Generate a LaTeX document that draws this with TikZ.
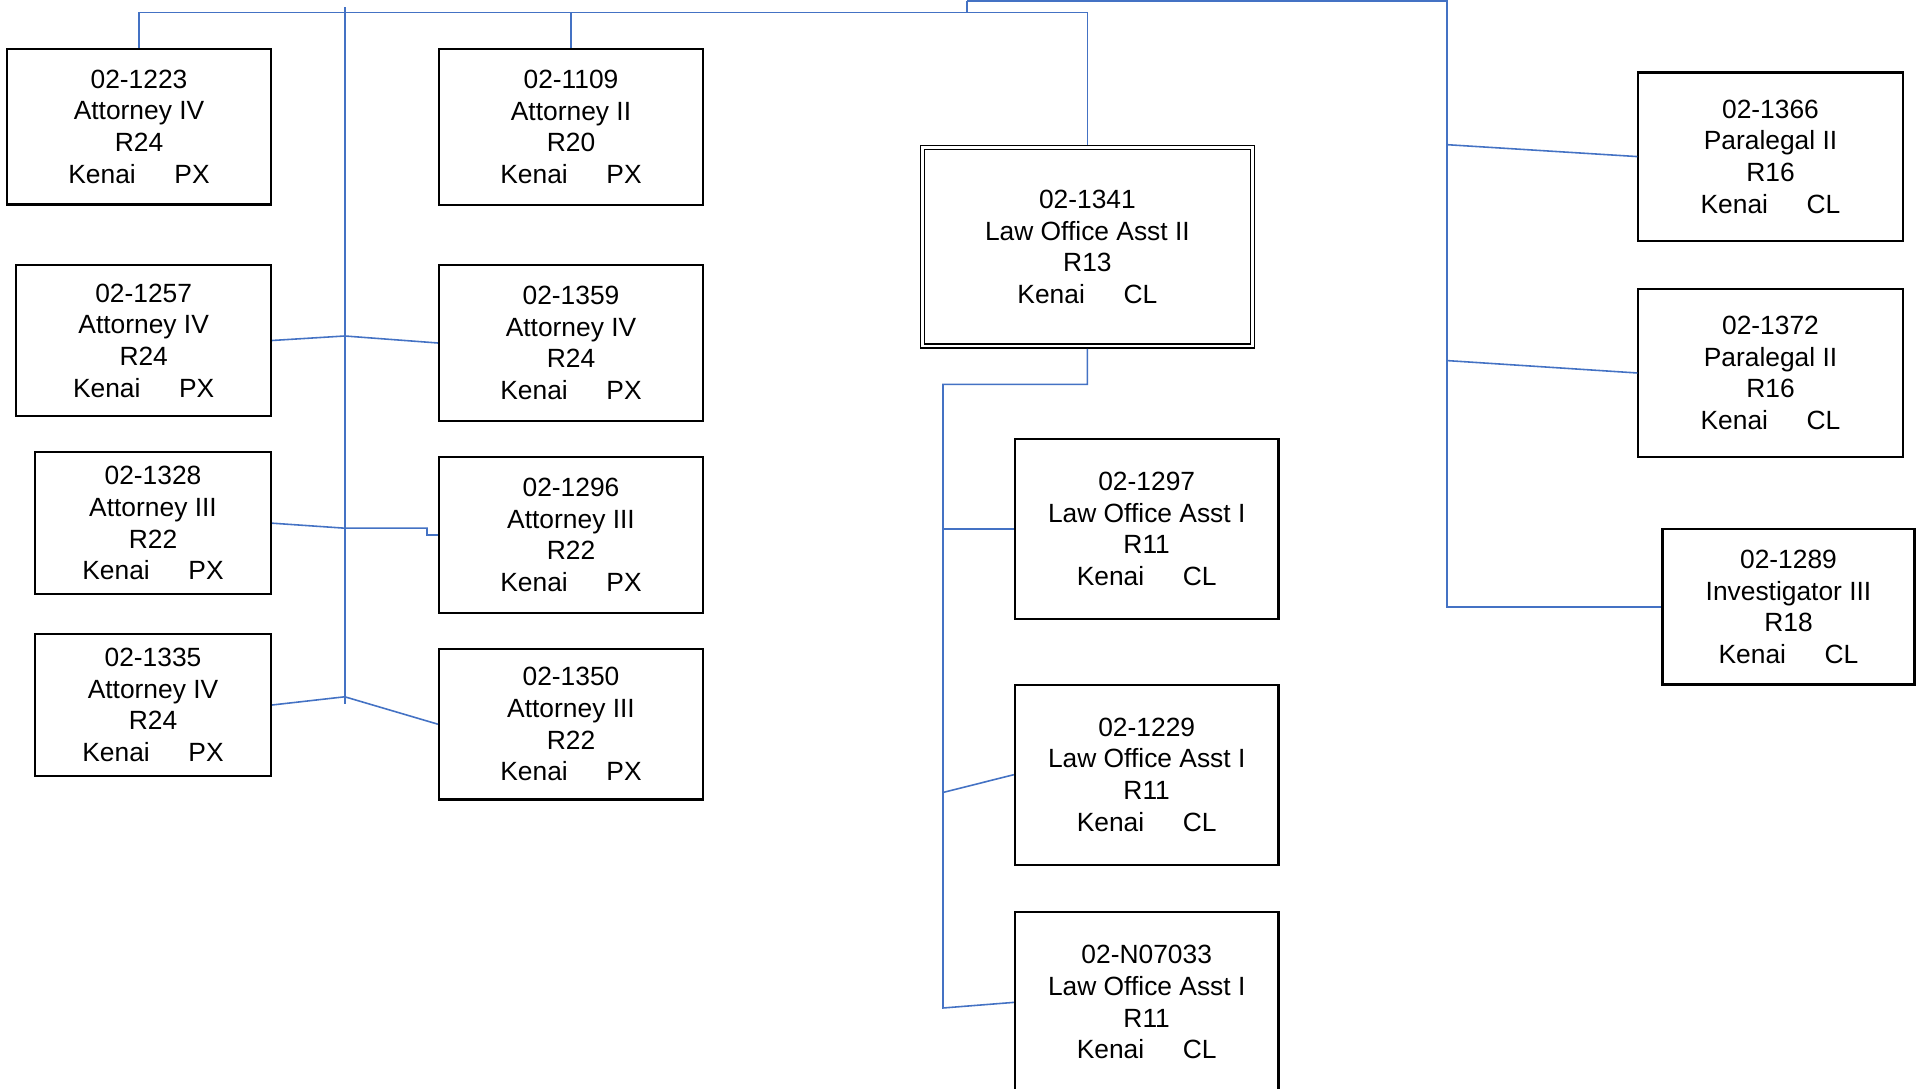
\documentclass[tikz,border=0pt]{standalone}
\usepackage{fontspec}
\setmainfont{Liberation Sans}
\usepackage{tikz}
\usetikzlibrary{positioning, calc}
\definecolor{orgblue}{RGB}{68,114,196}
\newcommand{\kgap}{\hspace{11pt}}

\begin{document}
\begin{tikzpicture}[x=0.01cm, y=-0.01cm]
			\tikzstyle{posbox}=[draw=black, line width=0.6pt, fill=none, text=black, align=center, inner sep=0pt, font=\fontsize{7.5}{9}\selectfont]
			\tikzstyle{col}=[posbox, minimum width=2.64cm, minimum height=1.56cm]
			\tikzstyle{attl}=[posbox, minimum width=2.36cm, minimum height=1.42cm]
			\tikzstyle{para}=[posbox, minimum width=2.64cm, minimum height=1.68cm]
			\tikzstyle{lawa}=[posbox, minimum width=2.635cm, minimum height=1.80cm]
			\tikzstyle{link}=[orgblue, line width=0.45pt]
			
			\clip (0,0) rectangle (1923,1089);
			\fill [white] (0,0) rectangle (1923,1089);
			
			%% left columns
			\node (p1223) at (139,126.7) [col, minimum height=1.555cm] {02-1223\\Attorney IV\\R24\\Kenai\kgap PX};
			\node (p1109) at (571,127) [col] {02-1109\\Attorney II\\R20\\Kenai\kgap PX};
			\node (p1257) at (143.7,340.5) [posbox, minimum width=2.545cm, minimum height=1.51cm] {02-1257\\Attorney IV\\R24\\Kenai\kgap PX};
			\node (p1359) at (571,343) [col] {02-1359\\Attorney IV\\R24\\Kenai\kgap PX};
			\node (p1328) at (153,523.2) [attl] {02-1328\\Attorney III\\R22\\Kenai\kgap PX};
			\node (p1296) at (571,535) [col] {02-1296\\Attorney III\\R22\\Kenai\kgap PX};
			\node (p1335) at (153,705) [attl] {02-1335\\Attorney IV\\R24\\Kenai\kgap PX};
			\node (p1350) at (571,724.2) [col, minimum height=1.505cm] {02-1350\\Attorney III\\R22\\Kenai\kgap PX};
			
			%% middle
			\node (p1341) at (1087.4,246.8) [posbox, double, line width=0.5pt, double distance=0.65pt, outer sep=0.82pt, minimum width=3.298cm, minimum height=1.985cm] {02-1341\\Law Office Asst II\\R13\\Kenai\kgap CL};
			\node (p1297) at (1146.7,529) [lawa] {02-1297\\Law Office Asst I\\R11\\Kenai\kgap CL};
			\node (p1229) at (1146.7,774.7) [lawa] {02-1229\\Law Office Asst I\\R11\\Kenai\kgap CL};
			\node (pN07033) at (1146.7,1002.4) [lawa] {02-N07033\\Law Office Asst I\\R11\\Kenai\kgap CL};
			
			%% right
			\node (p1366) at (1770.5,156.6) [para] {02-1366\\Paralegal II\\R16\\Kenai\kgap CL};
			\node (p1372) at (1770.5,373) [para] {02-1372\\Paralegal II\\R16\\Kenai\kgap CL};
			\node (p1289) at (1788.5,606.8) [posbox, minimum width=2.518cm, minimum height=1.553cm] {02-1289\\Investigator III\\R18\\Kenai\kgap CL};
			
			%% top bus
			\coordinate (root) at (967,1.2);
			\coordinate (rtop) at (1447,1.2);
			\coordinate (busl) at (139,12.7);
			\coordinate (busr) at (1087.4,12.7);
			\draw [link] (root) -- (root |- busl);
			\draw [link] (p1223.north) -- (busl) -- (busr) -- (p1341.north);
			\draw [link] (p1109.north) -- (p1109.north |- busl);
			
			%% left bus
			\coordinate (lbtop) at (344.8,7.3);
			\coordinate (lbbot) at (344.8,704.3);
			\coordinate (jl1) at (344.8,336);
			\coordinate (jl2) at (344.8,528.2);
			\coordinate (jl3) at (344.8,696.8);
			\draw [link] (lbtop) -- (lbbot);
			\draw [link] (p1257.east) -- (jl1) -- (p1359.west);
			\draw [link] (p1328.east) -- (jl2) -- ++(82.2,0) |- (p1296.west);
			\draw [link] (p1335.east) -- (jl3) -- (p1350.west);
			
			%% middle bus
			\coordinate (mb) at (943,384.4);
			\coordinate (mg) at (943,792.5);
			\coordinate (mh) at (943,1008);
			\draw [link] (p1341.south) |- (mb) -- (mh) -- (pN07033.west);
			\draw [link] (mb |- p1297.west) -- (p1297.west);
			\draw [link] (mg) -- (p1229.west);
			
			%% right bus
			\coordinate (rd) at (1447,144.7);
			\coordinate (re) at (1447,360.6);
			\draw [link] (root) -- (rtop) |- (p1289.west);
			\draw [link] (rd) -- (p1366.west);
			\draw [link] (re) -- (p1372.west);
\end{tikzpicture}
\end{document}
